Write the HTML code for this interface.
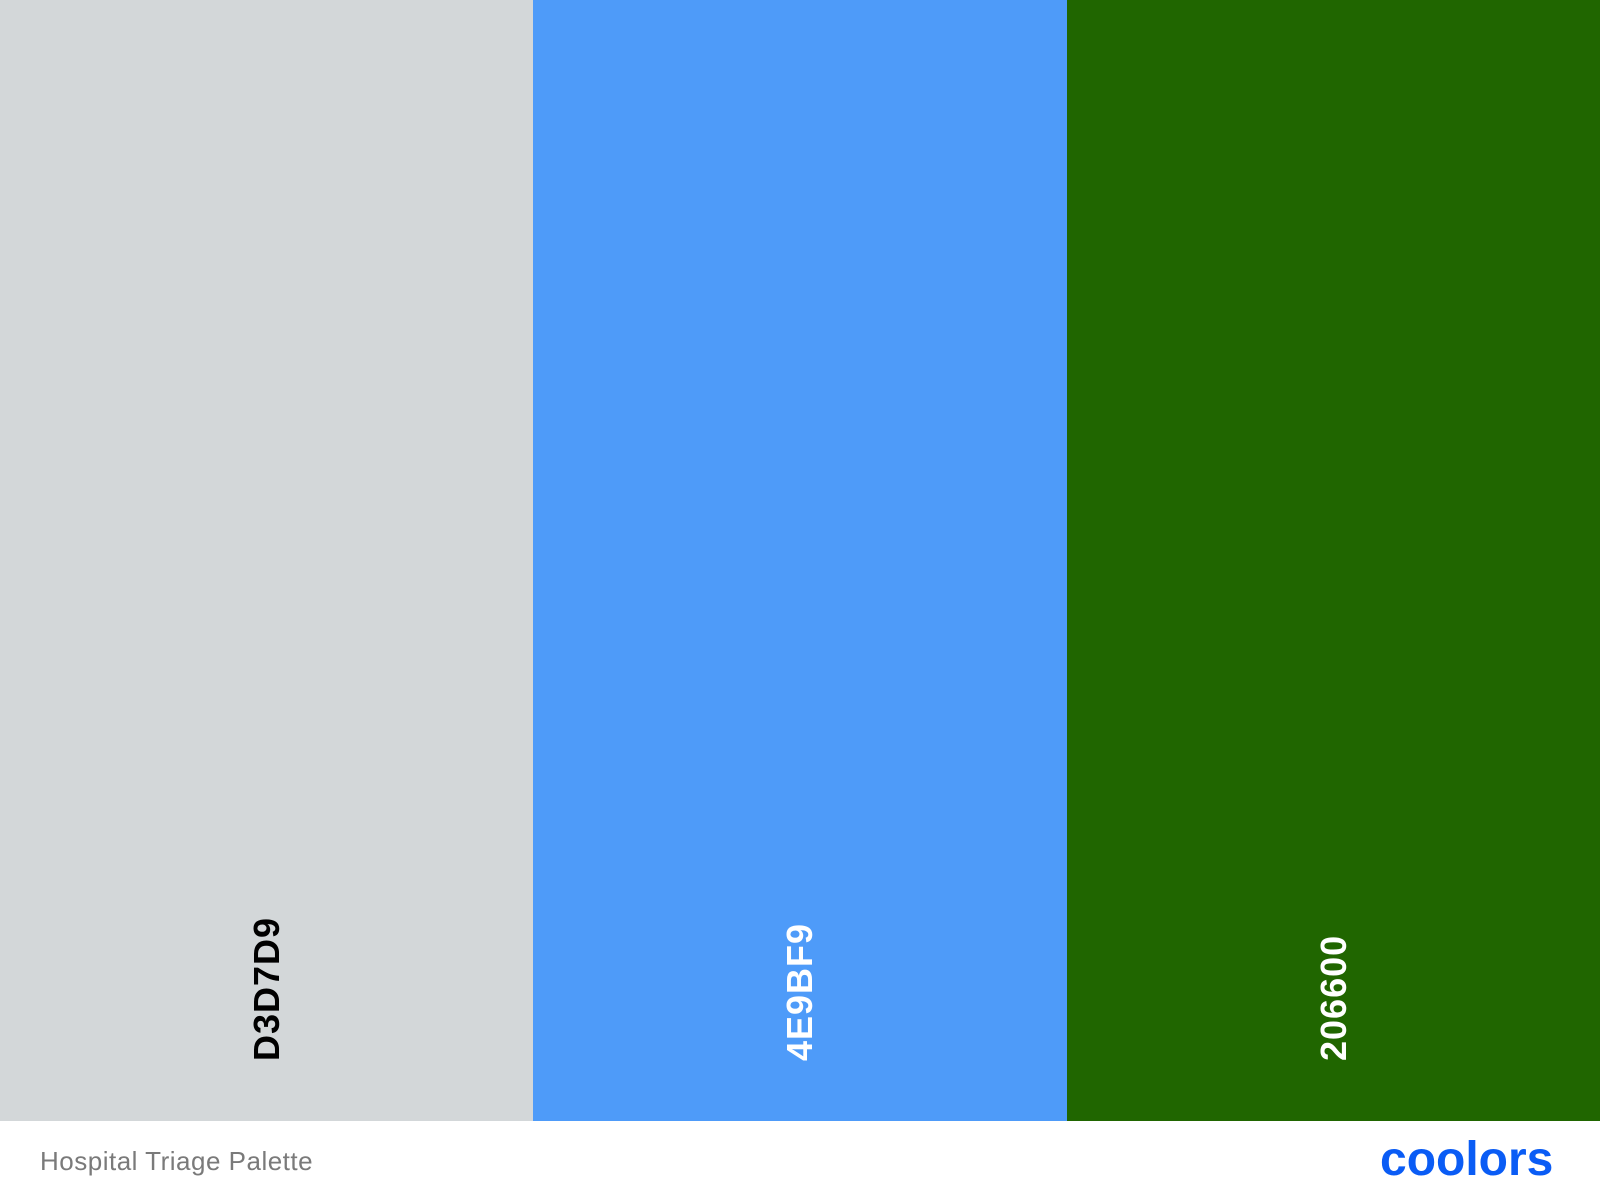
<!DOCTYPE html>
<html><head><meta charset="utf-8"><style>
html,body{margin:0;padding:0;width:1600px;height:1200px;overflow:hidden;background:#fff;font-family:"Liberation Sans",sans-serif}
.sw{position:absolute;top:0;height:1121px;width:534px}
.lbl{position:absolute;left:50%;bottom:24px;transform-origin:0 0;transform:rotate(-90deg) translate(0,-50%);white-space:nowrap;font-size:36px;font-weight:bold;letter-spacing:1px;line-height:1}
.foot{position:absolute;left:40px;top:1146px;font-size:26px;color:#7a7a7a;letter-spacing:0.5px}
.logo{position:absolute;left:1380px;top:1136px;font-size:48px;font-weight:bold;color:#0a5cf5;letter-spacing:0px;line-height:1}
</style></head><body>
<div class="sw" style="left:0;background:#D3D7D9"><div class="lbl" style="color:#000">D3D7D9</div></div>
<div class="sw" style="left:533px;background:#4E9BF9"><div class="lbl" style="color:#fff">4E9BF9</div></div>
<div class="sw" style="left:1067px;width:533px;background:#206600"><div class="lbl" style="color:#fff">206600</div></div>
<div class="foot">Hospital Triage Palette</div>
<div class="logo">coolors</div>
</body></html>
